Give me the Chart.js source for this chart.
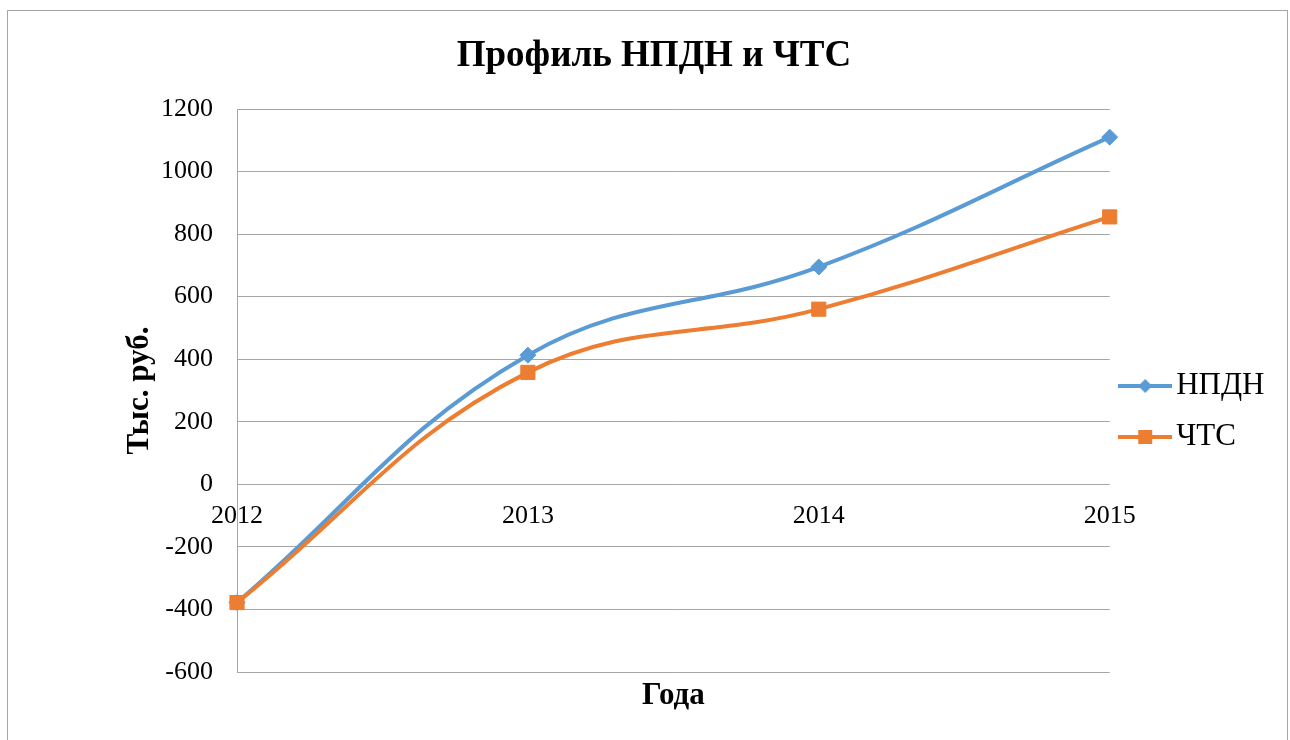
<!DOCTYPE html>
<html>
<head>
<meta charset="utf-8">
<script src="https://cdn.jsdelivr.net/npm/chart.js@4.4.1/dist/chart.umd.min.js"></script>
<style>
  html, body { margin: 0; padding: 0; background: #fff; }
  #wrap { position: relative; width: 1290px; height: 740px; overflow: hidden; }
  #frame { position: absolute; left: 7px; top: 10px; width: 1281px; height: 740px;
           border: 1px solid #a6a6a6; box-sizing: border-box; pointer-events: none; }
</style>
</head>
<body>
<div id="wrap">
  <canvas id="c" width="1290" height="740"></canvas>
  <div id="frame"></div>
</div>
<script>
// ---- data (тыс. руб.) ----
const years = ["2012", "2013", "2014", "2015"];
const npdn  = [-378, 413, 695, 1110];
const chts  = [-378, 358, 560, 855];
const yMin = -600, yMax = 1200, yStep = 200;

const BLUE = "#5b9bd5", ORANGE = "#ed7d31", GRID = "#a6a6a6";
const SERIF = '"Liberation Serif", "Times New Roman", serif';
Chart.defaults.font.family = SERIF;
Chart.defaults.color = "#000";

// plot-area geometry
const PAD_L = 33.5, PAD_R = 15.5, PLOT_LEFT = 237;

// legend sample: short line with the series marker in the middle
function legendSwatch(color, shape) {
  const cv = document.createElement("canvas");
  cv.width = 54; cv.height = 18;
  const g = cv.getContext("2d");
  g.strokeStyle = color; g.lineWidth = 4;
  g.beginPath(); g.moveTo(0, 9); g.lineTo(54, 9); g.stroke();
  g.fillStyle = color;
  if (shape === "diamond") {
    g.beginPath(); g.moveTo(27, 2); g.lineTo(34, 9); g.lineTo(27, 16); g.lineTo(20, 9); g.closePath(); g.fill();
  } else {
    g.fillRect(20, 2, 14, 14);
  }
  return cv;
}
const swatches = [legendSwatch(BLUE, "diamond"), legendSwatch(ORANGE, "square")];

new Chart(document.getElementById("c"), {
  type: "line",
  data: {
    labels: years,
    datasets: [
      { label: "НПДН", data: npdn, borderColor: BLUE, backgroundColor: BLUE, borderWidth: 4,
        pointStyle: "rectRot", pointRadius: 8, pointHoverRadius: 8, pointBorderWidth: 1,
        tension: 0.4, clip: false, order: 1 },
      { label: "ЧТС", data: chts, borderColor: ORANGE, backgroundColor: ORANGE, borderWidth: 4,
        pointStyle: "rect", pointRadius: 10, pointHoverRadius: 10, pointBorderWidth: 1,
        tension: 0.4, clip: false, order: 0 },
    ],
  },
  options: {
    responsive: false,
    animation: false,
    layout: { padding: { left: PAD_L, right: PAD_R, top: 0, bottom: 0 } },
    plugins: {
      title: { display: true, text: "Профиль НПДН и ЧТС",
               font: { size: 37, weight: "bold", family: SERIF },
               padding: { top: 33.8, bottom: 30.8 } },
      subtitle: { display: true, position: "bottom", fullSize: false, text: "Года",
                  font: { size: 31, weight: "bold", family: SERIF },
                  padding: { top: 5.4, bottom: 25.4 } },
      legend: {
        position: "right",
        title: { display: true, text: " ", font: { size: 10 }, padding: { top: 35.5, bottom: 35.5 } },
        labels: {
          usePointStyle: true, boxWidth: 31, boxHeight: 31, padding: 20,
          font: { size: 31, family: SERIF },
          sort: (a, b) => a.datasetIndex - b.datasetIndex,
          generateLabels(chart) {
            return Chart.defaults.plugins.legend.labels.generateLabels(chart)
              .map(it => Object.assign(it, { pointStyle: swatches[it.datasetIndex] }));
          },
        },
      },
      tooltip: { enabled: false },
    },
    scales: {
      x: {
        position: { y: 0 },
        grid: { display: false, drawTicks: false },
        border: { display: false },
        ticks: { font: { size: 26 }, padding: 16, maxRotation: 0, autoSkip: false },
        afterFit(s) { s.height = 0; s.paddingLeft = 0; s.paddingRight = 0; },
      },
      y: {
        min: yMin, max: yMax,
        grid: { color: GRID, lineWidth: 1, drawTicks: false },
        border: { display: true, color: GRID, width: 1 },
        ticks: { stepSize: yStep, font: { size: 26 }, padding: 24, callback: v => String(v) },
        title: { display: true, text: "Тыс. руб.", font: { size: 31, weight: "bold", family: SERIF },
                 padding: { top: 87.5, bottom: 0 } },
        afterFit(s) { s.width = PLOT_LEFT - PAD_L; },
      },
    },
  },
});
</script>
</body>
</html>
